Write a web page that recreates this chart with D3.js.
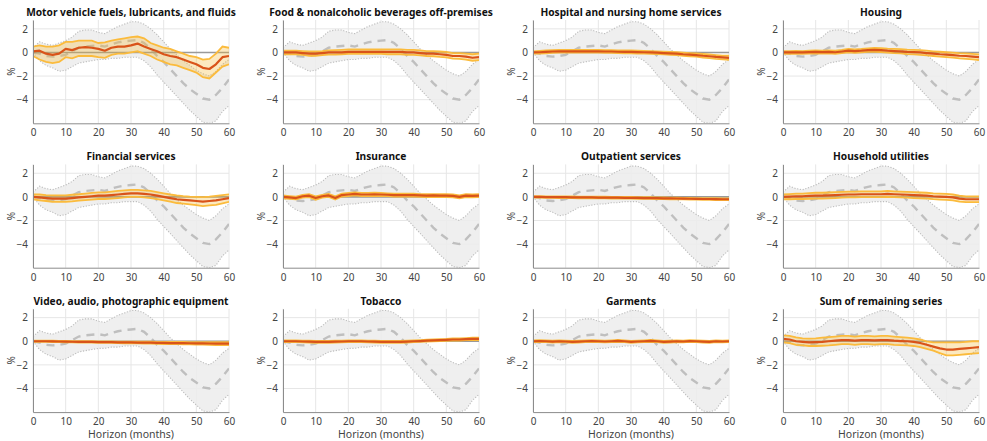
<!DOCTYPE html>
<html>
<head>
<meta charset="utf-8">
<script src="https://cdn.jsdelivr.net/npm/d3@7"></script>
<style>
  html, body { margin: 0; padding: 0; background: #fff; }
  svg { display: block; font-family: "Noto Sans", "Open Sans", sans-serif; }
</style>
</head>
<body>
<svg id="chart" width="987" height="441"></svg>
<script>
// Horizon grid (months), every second month
const horizon = d3.range(0, 61, 2);

// Reference response shared by every panel: median and band
const refMid = [0,-0.1,-0.3,-0.35,-0.3,-0.2,0.1,0.4,0.5,0.55,0.6,0.5,0.7,0.85,0.95,1.0,1.05,0.8,0.3,-0.3,-0.8,-1.4,-2.0,-2.6,-3.1,-3.5,-3.9,-4.0,-3.6,-3.0,-2.3];
const refHi  = [0.4,0.9,0.7,0.6,0.8,1.0,1.3,1.8,1.9,1.9,1.7,1.6,1.9,2.2,2.4,2.6,2.6,2.4,2.0,1.5,0.9,0.3,-0.2,-0.7,-1.1,-1.5,-1.8,-2.0,-1.6,-1.0,-0.6];
const refLo  = [0.0,-0.7,-1.1,-1.3,-1.6,-1.5,-1.2,-0.9,-0.8,-0.7,-0.6,-0.6,-0.5,-0.5,-0.4,-0.4,-0.4,-0.7,-1.2,-1.9,-2.5,-3.1,-3.7,-4.3,-4.9,-5.4,-5.9,-6.0,-5.8,-5.0,-4.5];

// Panel titles
const titles = [
  "Motor vehicle fuels, lubricants, and fluids",
  "Food & nonalcoholic beverages off-premises",
  "Hospital and nursing home services",
  "Housing",
  "Financial services",
  "Insurance",
  "Outpatient services",
  "Household utilities",
  "Video, audio, photographic equipment",
  "Tobacco",
  "Garments",
  "Sum of remaining series"
];

// Category responses: point estimate and band
const fuelsMid = [0.1,0.15,-0.1,-0.2,-0.1,0.3,0.2,0.4,0.45,0.4,0.3,0.15,0.4,0.5,0.5,0.6,0.75,0.5,0.3,0.1,-0.15,-0.3,-0.4,-0.6,-0.8,-1.0,-1.3,-1.4,-1.0,-0.4,-0.3];
const fuelsHi  = [0.5,0.6,0.5,0.5,0.6,0.9,0.9,1.0,1.0,1.0,0.8,0.85,1.0,1.1,1.2,1.3,1.35,1.2,0.8,0.6,0.4,0.3,0.1,-0.1,-0.3,-0.4,-0.6,-0.55,-0.1,0.5,0.4];
const fuelsLo  = [-0.3,-0.6,-0.8,-0.9,-0.8,-0.4,-0.5,-0.3,-0.3,-0.3,-0.4,-0.45,-0.2,-0.1,-0.1,0.0,0.1,-0.1,-0.3,-0.6,-0.8,-1.0,-1.1,-1.3,-1.5,-1.7,-2.1,-2.2,-1.7,-1.2,-1.0];

const foodMid = [0,0,0,-0.05,-0.1,-0.1,-0.05,0,0,0,0.05,0.05,0.05,0.05,0.05,0.05,0.05,0.05,0.05,0,0,-0.05,-0.1,-0.1,-0.15,-0.2,-0.3,-0.3,-0.35,-0.45,-0.4];
const foodHi  = [0.15,0.15,0.15,0.12,0.08,0.08,0.12,0.18,0.2,0.22,0.25,0.25,0.25,0.25,0.25,0.25,0.27,0.27,0.27,0.22,0.22,0.18,0.12,0.12,0.08,0.05,-0.05,-0.05,-0.1,-0.15,-0.1];
const foodLo  = [-0.15,-0.15,-0.15,-0.2,-0.28,-0.28,-0.22,-0.18,-0.18,-0.15,-0.12,-0.12,-0.12,-0.12,-0.12,-0.12,-0.15,-0.15,-0.15,-0.2,-0.2,-0.25,-0.3,-0.32,-0.38,-0.42,-0.52,-0.55,-0.6,-0.7,-0.65];

const hospMid = [0,0.02,0.05,0.08,0.1,0.1,0.1,0.1,0.1,0.1,0.1,0.08,0.08,0.06,0.05,0.05,0.03,0.02,0,-0.02,-0.05,-0.08,-0.1,-0.15,-0.18,-0.22,-0.28,-0.32,-0.38,-0.42,-0.45];
const hospHi  = [0.1,0.14,0.17,0.2,0.22,0.22,0.22,0.22,0.22,0.22,0.22,0.2,0.2,0.18,0.17,0.17,0.15,0.14,0.12,0.1,0.07,0.04,0.02,-0.02,-0.05,-0.08,-0.13,-0.17,-0.22,-0.26,-0.28];
const hospLo  = [-0.1,-0.1,-0.07,-0.04,-0.02,-0.02,-0.02,-0.02,-0.02,-0.02,-0.02,-0.04,-0.04,-0.06,-0.07,-0.07,-0.09,-0.1,-0.12,-0.14,-0.17,-0.2,-0.23,-0.28,-0.32,-0.36,-0.43,-0.48,-0.54,-0.58,-0.62];

const housMid = [0,0,0.02,0,0.03,0.05,0.03,0.05,0.02,0.08,0.15,0.12,0.15,0.2,0.22,0.2,0.15,0.12,0.1,0.05,0.03,0,-0.05,-0.1,-0.15,-0.18,-0.22,-0.28,-0.3,-0.35,-0.4];
const housHi  = [0.12,0.12,0.14,0.12,0.15,0.18,0.16,0.18,0.16,0.22,0.3,0.27,0.3,0.35,0.38,0.36,0.32,0.3,0.28,0.24,0.22,0.2,0.15,0.1,0.06,0.02,-0.02,-0.06,-0.08,-0.12,-0.16];
const housLo  = [-0.12,-0.12,-0.1,-0.12,-0.09,-0.08,-0.1,-0.08,-0.12,-0.06,0,-0.03,0,0.05,0.06,0.04,-0.02,-0.06,-0.08,-0.14,-0.16,-0.2,-0.25,-0.3,-0.36,-0.4,-0.44,-0.5,-0.54,-0.58,-0.64];

const finMid = [0,-0.05,-0.1,-0.15,-0.15,-0.15,-0.1,-0.05,0,0.05,0.1,0.1,0.15,0.2,0.25,0.3,0.3,0.25,0.2,0.1,0,-0.1,-0.2,-0.25,-0.3,-0.35,-0.4,-0.35,-0.3,-0.2,-0.1];
const finHi  = [0.2,0.2,0.15,0.12,0.12,0.12,0.18,0.22,0.28,0.33,0.38,0.38,0.45,0.5,0.55,0.6,0.6,0.55,0.5,0.4,0.3,0.2,0.12,0.06,0.02,0,-0.02,0.02,0.08,0.15,0.22];
const finLo  = [-0.2,-0.3,-0.35,-0.42,-0.42,-0.42,-0.38,-0.32,-0.28,-0.23,-0.18,-0.18,-0.15,-0.1,-0.05,0,0,-0.05,-0.1,-0.2,-0.3,-0.4,-0.52,-0.58,-0.64,-0.7,-0.78,-0.72,-0.68,-0.55,-0.42];

const insMid = [0,-0.05,-0.1,0.05,0.1,-0.1,0.05,0.12,-0.1,0.15,0.2,0.25,0.2,0.2,0.22,0.2,0.18,0.15,0.15,0.15,0.15,0.12,0.1,0.12,0.1,0.1,0.08,0,0.1,0.08,0.1];
const insHi  = [0.12,0.07,0.02,0.17,0.22,0.04,0.17,0.24,0.04,0.27,0.33,0.38,0.33,0.33,0.35,0.33,0.3,0.27,0.27,0.27,0.27,0.24,0.22,0.24,0.22,0.22,0.2,0.12,0.22,0.2,0.22];
const insLo  = [-0.12,-0.17,-0.22,-0.07,-0.02,-0.24,-0.07,0,-0.22,0.03,0.07,0.12,0.07,0.07,0.09,0.07,0.06,0.03,0.03,0.03,0.03,0,-0.02,0,-0.02,-0.02,-0.04,-0.12,-0.02,-0.04,-0.02];

const outMid = [0,0,-0.02,-0.02,-0.03,-0.03,-0.04,-0.05,-0.05,-0.05,-0.06,-0.06,-0.07,-0.07,-0.08,-0.08,-0.09,-0.1,-0.1,-0.11,-0.12,-0.13,-0.14,-0.15,-0.16,-0.17,-0.18,-0.18,-0.19,-0.2,-0.2];
const outHi  = [0.07,0.07,0.05,0.05,0.04,0.04,0.03,0.02,0.02,0.02,0.01,0.01,0,0,-0.01,-0.01,-0.02,-0.03,-0.03,-0.04,-0.05,-0.06,-0.07,-0.08,-0.09,-0.1,-0.1,-0.1,-0.11,-0.12,-0.12];
const outLo  = [-0.07,-0.07,-0.09,-0.09,-0.1,-0.1,-0.11,-0.12,-0.12,-0.12,-0.13,-0.13,-0.14,-0.14,-0.15,-0.15,-0.16,-0.17,-0.17,-0.18,-0.19,-0.2,-0.21,-0.22,-0.23,-0.24,-0.26,-0.26,-0.27,-0.28,-0.28];

const utilMid = [0,0.02,0.05,0.05,0.08,0.1,0.1,0.12,0.15,0.18,0.2,0.2,0.22,0.22,0.22,0.22,0.25,0.22,0.2,0.18,0.15,0.12,0.1,0.05,0.02,0,-0.05,-0.15,-0.2,-0.2,-0.2];
const utilHi  = [0.2,0.24,0.28,0.28,0.32,0.35,0.35,0.37,0.4,0.43,0.45,0.45,0.47,0.47,0.47,0.47,0.5,0.47,0.45,0.43,0.4,0.37,0.35,0.3,0.27,0.25,0.2,0.1,0.05,0.05,0.05];
const utilLo  = [-0.2,-0.2,-0.18,-0.18,-0.16,-0.15,-0.15,-0.13,-0.1,-0.07,-0.05,-0.05,-0.03,-0.03,-0.03,-0.03,0,-0.03,-0.05,-0.07,-0.1,-0.13,-0.15,-0.2,-0.23,-0.25,-0.3,-0.4,-0.45,-0.45,-0.45];

const vidMid = [0,0,0,-0.01,-0.02,-0.03,-0.04,-0.05,-0.05,-0.06,-0.07,-0.08,-0.08,-0.09,-0.1,-0.1,-0.11,-0.12,-0.12,-0.13,-0.14,-0.15,-0.15,-0.16,-0.17,-0.18,-0.18,-0.19,-0.2,-0.2,-0.2];
const vidHi  = [0.06,0.06,0.06,0.05,0.04,0.03,0.02,0.01,0.01,0,-0.01,-0.02,-0.02,-0.03,-0.03,-0.03,-0.04,-0.04,-0.04,-0.05,-0.05,-0.06,-0.06,-0.06,-0.07,-0.07,-0.07,-0.08,-0.08,-0.08,-0.08];
const vidLo  = [-0.06,-0.06,-0.06,-0.07,-0.08,-0.09,-0.1,-0.11,-0.11,-0.12,-0.13,-0.14,-0.14,-0.15,-0.17,-0.17,-0.18,-0.2,-0.2,-0.21,-0.23,-0.24,-0.24,-0.26,-0.27,-0.29,-0.29,-0.3,-0.32,-0.32,-0.32];

const tobMid = [0,0,0,-0.02,-0.03,-0.05,-0.05,-0.05,-0.03,-0.02,0,0,0,-0.02,-0.03,-0.05,-0.05,-0.05,-0.05,-0.03,0,0.02,0.05,0.08,0.1,0.12,0.15,0.15,0.18,0.2,0.2];
const tobHi  = [0.08,0.08,0.08,0.06,0.05,0.03,0.03,0.03,0.05,0.06,0.08,0.08,0.08,0.06,0.05,0.03,0.03,0.03,0.03,0.05,0.08,0.1,0.13,0.16,0.18,0.2,0.24,0.24,0.27,0.3,0.3];
const tobLo  = [-0.08,-0.08,-0.08,-0.1,-0.11,-0.13,-0.13,-0.13,-0.11,-0.1,-0.08,-0.08,-0.08,-0.1,-0.11,-0.13,-0.13,-0.13,-0.13,-0.11,-0.08,-0.06,-0.03,0,0.02,0.04,0.06,0.06,0.09,0.1,0.1];

const garMid = [0,0.02,0,-0.03,0,-0.02,-0.05,-0.03,0,0.02,0,-0.02,0,0.03,0,-0.05,-0.02,0,0.03,0,-0.05,-0.03,0,-0.02,0.02,0,-0.03,-0.05,0,-0.02,0];
const garHi  = [0.08,0.1,0.08,0.05,0.08,0.06,0.03,0.05,0.08,0.1,0.08,0.06,0.08,0.11,0.08,0.03,0.06,0.08,0.11,0.08,0.03,0.05,0.08,0.06,0.1,0.08,0.05,0.03,0.08,0.06,0.08];
const garLo  = [-0.08,-0.06,-0.08,-0.11,-0.08,-0.1,-0.13,-0.11,-0.08,-0.06,-0.08,-0.1,-0.08,-0.05,-0.08,-0.13,-0.1,-0.08,-0.05,-0.08,-0.13,-0.11,-0.08,-0.1,-0.06,-0.08,-0.11,-0.13,-0.08,-0.1,-0.08];

const restMid = [0.2,0.15,0.0,-0.05,-0.1,-0.08,-0.05,0.0,0.05,0.1,0.1,0.05,0.1,0.1,0.08,0.1,0.1,0.05,0.02,0,-0.05,-0.15,-0.3,-0.45,-0.6,-0.7,-0.7,-0.65,-0.6,-0.55,-0.5];
const restHi  = [0.5,0.45,0.32,0.25,0.22,0.25,0.3,0.35,0.4,0.45,0.45,0.4,0.45,0.45,0.42,0.45,0.45,0.4,0.35,0.3,0.25,0.15,0.0,-0.1,-0.1,-0.1,-0.1,-0.1,-0.05,0.0,0.0];
const restLo  = [-0.1,-0.15,-0.3,-0.35,-0.4,-0.4,-0.38,-0.35,-0.3,-0.25,-0.25,-0.3,-0.25,-0.25,-0.28,-0.25,-0.25,-0.3,-0.32,-0.35,-0.4,-0.5,-0.65,-0.8,-1.0,-1.2,-1.2,-1.15,-1.1,-1.05,-1.0];

const xTicks = [0, 10, 20, 30, 40, 50, 60];
const yTicks = [-4, -2, 0, 2];

const panels = [
  [fuelsMid, fuelsLo, fuelsHi], [foodMid, foodLo, foodHi], [hospMid, hospLo, hospHi], [housMid, housLo, housHi],
  [finMid, finLo, finHi], [insMid, insLo, insHi], [outMid, outLo, outHi], [utilMid, utilLo, utilHi],
  [vidMid, vidLo, vidHi], [tobMid, tobLo, tobHi], [garMid, garLo, garHi], [restMid, restLo, restHi]
].map((s, i) => ({ title: titles[i], mid: s[0], lo: s[1], hi: s[2] }));

// Layout of the 3 x 4 grid
const svg = d3.select("#chart");
const colX = [33, 283, 533, 783];
const rowY = [20, 164.4, 308.8];
const W = 196, H = 103.3;

const x = d3.scaleLinear().domain([0, 60]).range([0, W]);
const y = d3.scaleLinear().domain([-6, 2.75]).range([H, 0]);

const lineGen = arr => d3.line().x((d, i) => x(horizon[i])).y(d => y(d))(arr);
const areaGen = (lo, hi) => d3.area()
  .x((d, i) => x(horizon[i])).y0((d, i) => y(lo[i])).y1((d, i) => y(hi[i]))(lo);

svg.append("defs").append("clipPath").attr("id", "plotClip")
  .append("rect").attr("x", 0).attr("y", 0).attr("width", W).attr("height", H);

panels.forEach((p, k) => {
  const r = Math.floor(k / 4), c = k % 4;
  const g = svg.append("g").attr("transform", `translate(${colX[c]},${rowY[r]})`);

  // grid
  g.append("g").selectAll("line").data(xTicks).join("line")
    .attr("x1", d => x(d)).attr("x2", d => x(d)).attr("y1", 0).attr("y2", H)
    .attr("stroke", "#e6e6e6").attr("stroke-width", 1);
  g.append("g").selectAll("line").data(yTicks).join("line")
    .attr("x1", 0).attr("x2", W).attr("y1", d => y(d)).attr("y2", d => y(d))
    .attr("stroke", "#e6e6e6").attr("stroke-width", 1);

  const plot = g.append("g").attr("clip-path", "url(#plotClip)");

  // reference band
  plot.append("path").attr("d", areaGen(refLo, refHi))
    .attr("fill", "#ececec").attr("fill-opacity", 0.85);
  [refLo, refHi].forEach(b => plot.append("path").attr("d", lineGen(b))
    .attr("fill", "none").attr("stroke", "#bdbdbd").attr("stroke-width", 1.1)
    .attr("stroke-dasharray", "1.2,1.6"));
  plot.append("path").attr("d", lineGen(refMid))
    .attr("fill", "none").attr("stroke", "#bfbfbf").attr("stroke-width", 2.4)
    .attr("stroke-dasharray", "8,6");

  // zero line
  plot.append("line").attr("x1", 0).attr("x2", W).attr("y1", y(0)).attr("y2", y(0))
    .attr("stroke", "#9a9a9a").attr("stroke-width", 1.6);

  // category band and estimate
  plot.append("path").attr("d", areaGen(p.lo, p.hi))
    .attr("fill", "#f5b730").attr("fill-opacity", 0.3);
  [p.lo, p.hi].forEach(b => plot.append("path").attr("d", lineGen(b))
    .attr("fill", "none").attr("stroke", "#fbbb3c").attr("stroke-width", 1.8));
  plot.append("path").attr("d", lineGen(p.mid))
    .attr("fill", "none").attr("stroke", "#d95319").attr("stroke-width", 2.2)
    .attr("stroke-linejoin", "round");

  // axes
  const xa = g.append("g").attr("transform", `translate(0,${H})`)
    .call(d3.axisBottom(x).tickValues(xTicks).tickSize(0).tickPadding(6));
  const ya = g.append("g")
    .call(d3.axisLeft(y).tickValues(yTicks).tickSize(0).tickPadding(5));
  [xa, ya].forEach(a => {
    a.select(".domain").attr("stroke", "#8c8c8c").attr("stroke-width", 1);
    a.selectAll("text").attr("fill", "#444").style("font-size", "10px")
      .style("font-family", "'Noto Sans', sans-serif");
  });

  // y label
  g.append("text").attr("transform", `translate(-18,${H / 2}) rotate(-90)`)
    .attr("text-anchor", "middle").attr("fill", "#444").style("font-size", "10px")
    .text("%");

  // title
  g.append("text").attr("x", W / 2).attr("y", -4).attr("text-anchor", "middle")
    .attr("fill", "#111").style("font-size", "10.2px").style("font-weight", "bold")
    .text(p.title);

  if (r === 2) {
    g.append("text").attr("x", W / 2).attr("y", H + 26).attr("text-anchor", "middle")
      .attr("fill", "#444").style("font-size", "10.5px").text("Horizon (months)");
  }
});
</script>
</body>
</html>
